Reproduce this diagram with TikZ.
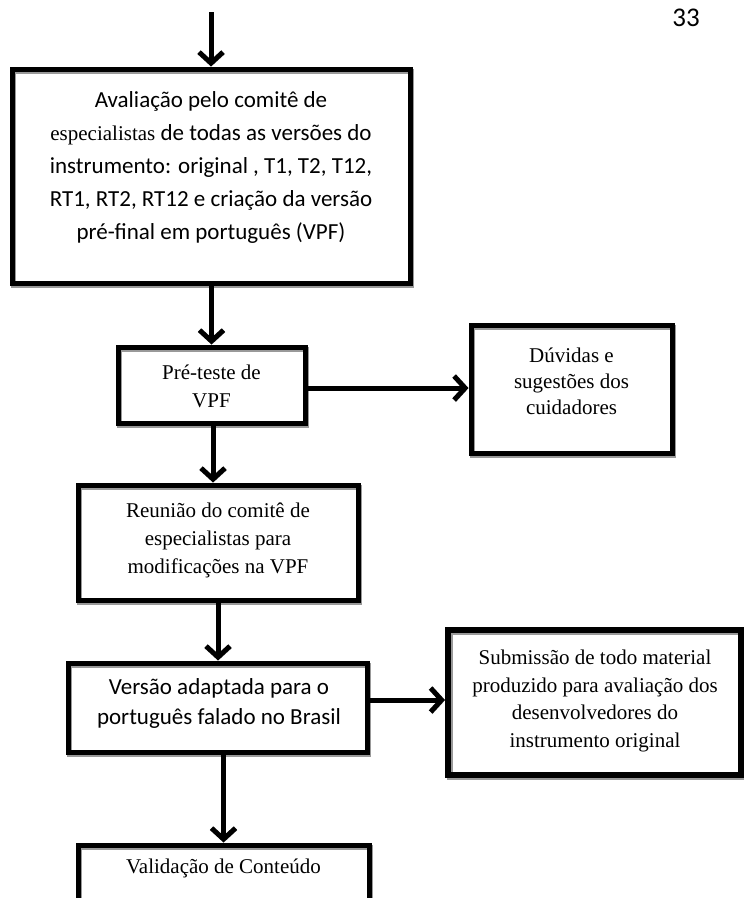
\documentclass[tikz,border=0pt]{standalone}
\usepackage{fontspec}
\setmainfont{Liberation Serif}
\newfontfamily\calib{Carlito}
\usetikzlibrary{arrows.meta}
\begin{document}
\begin{tikzpicture}[x=1pt,y=-1pt,
  shade1/.style={preaction={draw=black!40, transform canvas={xshift=1.5pt,yshift=-2pt}}},
  box/.style={draw, line width=5pt, rectangle, inner sep=0pt, shade1},
  flow/.style={line width=5pt, -{Straight Barb[length=11pt,width=24pt]}, shade1},
  txt/.style={align=center, inner sep=0pt},
  tms/.style={txt, font=\fontsize{21}{#1}\selectfont},
  cal/.style={txt, font={\calib\fontsize{23}{#1}\selectfont}}]
\clip (0,0) rectangle (744,898);
\fill[white] (0,0) rectangle (744,898);

\node[box, minimum width=398pt, minimum height=214pt] (b1) at (211,176) {};
\node[box, minimum width=187pt, minimum height=76pt] (b2) at (211.5,385) {};
\node[box, minimum width=201pt, minimum height=128pt] (b3) at (571.5,389) {};
\node[box, minimum width=280pt, minimum height=115pt] (b4) at (218,542.5) {};
\node[box, minimum width=299pt, minimum height=89pt] (b5) at (217.5,707.5) {};
\node[box, minimum width=293pt, minimum height=145pt, line width=6pt] (b6) at (594.5,702.5) {};
\node[box, minimum width=291pt, minimum height=105pt] (b7) at (223.5,897.5) {};

\node[cal=33] (t1) at (211,167) {Avaliação pelo comitê de\\
{\rmfamily\fontsize{21}{33}\selectfont especialistas} de todas as versões do\\
instrumento: original , T1, T2, T12,\\
RT1, RT2, RT12 e criação da versão\\
pré-final em português (VPF)};
\node[tms=28] (t2) at (211.5,386) {Pré-teste de\\VPF};
\node[tms=26] (t3) at (571.5,381) {Dúvidas e\\sugestões dos\\cuidadores};
\node[tms=28] (t4) at (218,540) {Reunião do comitê de\\especialistas para\\modificações na VPF};
\node[cal=30] (t5) at (219,703) {Versão adaptada para o\\português falado no Brasil};
\node[tms=27.5] (t6) at (595,701) {Submissão de todo material\\produzido para avaliação dos\\desenvolvedores do\\instrumento original};
\node[tms=28] (t7) at (223.5,868) {Validação de Conteúdo};

\node[inner sep=0pt, font={\calib\fontsize{27}{30}\selectfont}] (pg) at (686,18) {33};

\coordinate (start) at (211,12);
\draw[flow] (start) -- (b1.north);
\draw[flow] (b1.south -| b2.north) -- (b2.north);
\draw[flow] ([yshift=-3pt]b2.east) -- ([yshift=-3pt]b2.east -| b3.west);
\draw[flow] ([xshift=1.5pt]b2.south) -- ([xshift=1.5pt]b2.south |- b4.north);
\draw[flow] (b4.south) -- (b4.south |- b5.north);
\draw[flow] ([yshift=7.5pt]b5.east) -- ([yshift=7.5pt]b5.east -| b6.west);
\draw[flow] (b7.north |- b5.south) -- (b7.north);
\end{tikzpicture}
\end{document}
